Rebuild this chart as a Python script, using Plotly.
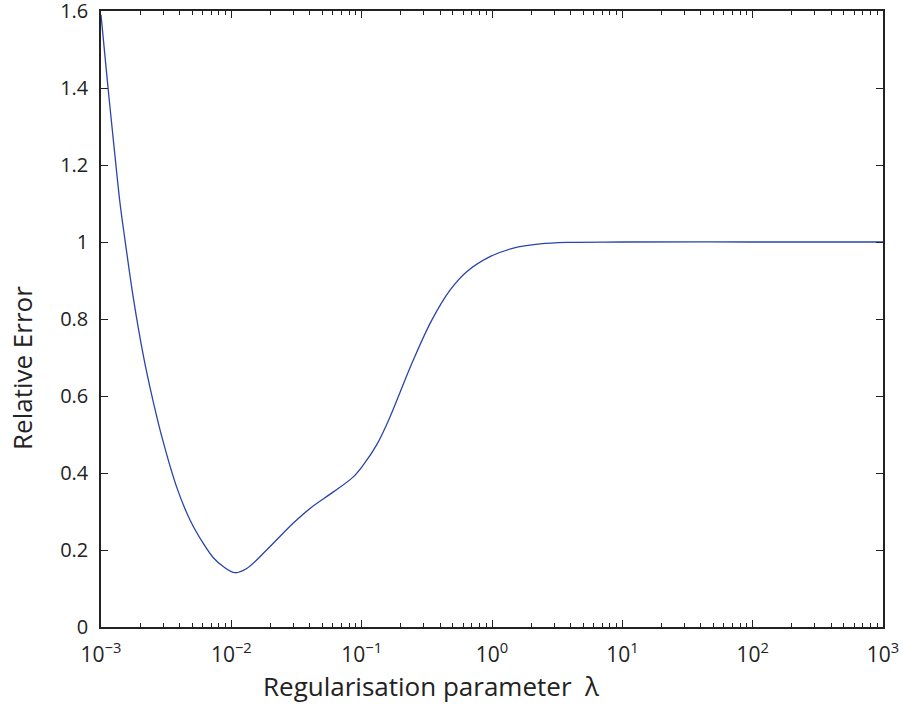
import plotly.graph_objects as go

# Regularisation parameter sweep and resulting relative error
lam = [1.0e-3, 1.125e-3, 1.279e-3, 1.400e-3, 1.528e-3, 1.770e-3, 2.113e-3,
       2.518e-3, 3.006e-3, 3.802e-3, 4.819e-3, 6.095e-3, 7.278e-3, 8.670e-3,
       1.067e-2, 1.312e-2, 1.866e-2, 2.992e-2, 4.018e-2, 6.067e-2, 8.630e-2,
       0.1030, 0.1303, 0.1652, 0.1972, 0.2495, 0.3451, 0.4764, 0.6397,
       0.9661, 1.459, 2.339, 3.741, 10.0, 100.0, 1000.0]
rel_err = [1.59, 1.41, 1.225, 1.10, 1.005, 0.855, 0.705,
           0.585, 0.48, 0.364, 0.278, 0.217, 0.180, 0.157,
           0.141, 0.152, 0.200, 0.270, 0.308, 0.351, 0.390,
           0.421, 0.473, 0.546, 0.610, 0.694, 0.797, 0.875, 0.923,
           0.962, 0.984, 0.995, 0.999, 1.0, 1.0, 1.0]

x_major = [1e-3, 1e-2, 1e-1, 1e0, 1e1, 1e2, 1e3]
x_major_text = ["10<sup>\u22123</sup>", "10<sup>\u22122</sup>", "10<sup>\u22121</sup>",
                "10<sup>0</sup>", "10<sup>1</sup>", "10<sup>2</sup>", "10<sup>3</sup>"]
x_minor = [m * d for d in [1e-3, 1e-2, 1e-1, 1e0, 1e1, 1e2] for m in range(2, 10)]
y_ticks = [0, 0.2, 0.4, 0.6, 0.8, 1.0, 1.2, 1.4, 1.6]
y_text = ["0", "0.2", "0.4", "0.6", "0.8", "1", "1.2", "1.4", "1.6"]

FONT = "Open Sans"
INK = "#222"
W, H = 903, 705
ML, MR, MT, MB = 101, 20, 11, 78

fig = go.Figure()
fig.add_trace(go.Scatter(
    x=lam, y=rel_err, mode="lines",
    line=dict(color="#2a45aa", width=1.3, shape="spline", smoothing=1.0),
    showlegend=False, hoverinfo="skip",
))

fig.update_layout(
    width=W, height=H,
    margin=dict(l=ML, r=MR, t=MT, b=MB, autoexpand=False),
    paper_bgcolor="white", plot_bgcolor="white",
    font=dict(family=FONT, size=20, color=INK),
    xaxis=dict(
        type="log", range=[-3, 3], automargin=False,
        tickmode="array", tickvals=x_major, ticktext=x_major_text,
        ticks="inside", ticklen=7, tickwidth=1, tickcolor=INK,
        minor=dict(tickmode="array", tickvals=x_minor, ticks="inside",
                   ticklen=4, tickwidth=1, tickcolor=INK),
        showline=True, linecolor=INK, linewidth=1.5, mirror="ticks",
        showgrid=False, zeroline=False,
        ticklabeloverflow="allow", ticklabelstandoff=8,
        tickfont=dict(family=FONT, size=21, color=INK),
    ),
    yaxis=dict(
        range=[0, 1.6], automargin=False,
        tickmode="array", tickvals=y_ticks, ticktext=y_text,
        ticks="inside", ticklen=7, tickwidth=1, tickcolor=INK,
        showline=True, linecolor=INK, linewidth=1.5, mirror="ticks",
        showgrid=False, zeroline=False,
        ticklabeloverflow="allow", ticklabelstandoff=7,
        tickfont=dict(family=FONT, size=20, color=INK),
    ),
)

# axis titles placed by page pixel position
pw, ph = W - ML - MR, H - MT - MB


def px_to_paper(px, py):
    return (px - ML) / pw, 1 - (py - MT) / ph


tx, ty = px_to_paper(431, 686)
fig.add_annotation(text="Regularisation parameter  \u03bb", x=tx, y=ty,
                   xref="paper", yref="paper", xanchor="center", yanchor="middle",
                   showarrow=False, font=dict(family=FONT, size=26, color=INK))
tx, ty = px_to_paper(22, 368)
fig.add_annotation(text="Relative Error", x=tx, y=ty, textangle=-90,
                   xref="paper", yref="paper", xanchor="center", yanchor="middle",
                   showarrow=False, font=dict(family=FONT, size=26, color=INK))

fig.write_html("out.html")
